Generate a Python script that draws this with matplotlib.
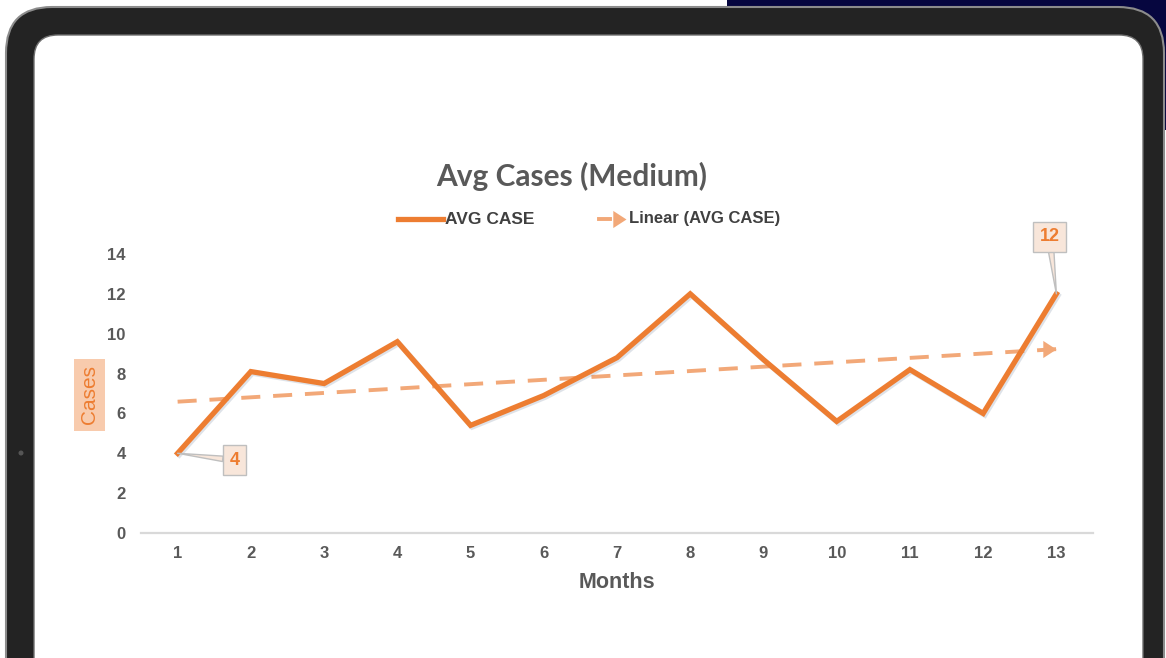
import matplotlib
matplotlib.use("Agg")
import matplotlib.pyplot as plt
import matplotlib.patheffects as pe
from matplotlib.patches import FancyBboxPatch, Rectangle, Circle
from matplotlib.lines import Line2D
import numpy as np

# monthly average cases
months = [1, 2, 3, 4, 5, 6, 7, 8, 9, 10, 11, 12, 13]
avg_case = [4, 8.1, 7.5, 9.6, 5.4, 6.9, 8.8, 12, 8.7, 5.6, 8.2, 6.0, 12]
y_ticks = [0, 2, 4, 6, 8, 10, 12, 14]
# points that carry a callout label, with callout offset in pixels
callouts = {0: (57, -7), 12: (-7, 57)}

ORANGE = "#ED7D31"
TREND = "#F2A878"
GRAY = "#595959"

# arrow head with its tip at the data point
ARROW = [(0, 0), (-1, 0.65), (-1, -0.65), (0, 0)]

fig = plt.figure(figsize=(11.66, 6.58), dpi=100)
fig.patch.set_facecolor("white")

# tablet frame drawn in pixel coordinates
bg = fig.add_axes([0, 0, 1, 1], zorder=-1)
bg.set_xlim(0, 1166)
bg.set_ylim(658, 0)
bg.axis("off")
bg.add_patch(Rectangle((727, 0), 439, 130, fc="#06063F", ec="none"))
bg.add_patch(FancyBboxPatch((6, 7), 1158, 720, boxstyle="round,pad=0,rounding_size=46",
                            fc="#232323", ec="#8C8C8C", lw=1.5))
bg.add_patch(FancyBboxPatch((34, 35), 1109, 720, boxstyle="round,pad=0,rounding_size=24",
                            fc="white", ec="#6E6E6E", lw=1))
bg.add_patch(Circle((21, 453), 2.5, fc="#555555", ec="none"))

ax = fig.add_axes([141 / 1166, 1 - 533 / 658, 952 / 1166, 279 / 658])
ax.set_facecolor("none")

ax.plot(months, avg_case, color=ORANGE, lw=3.8, solid_joinstyle="miter", zorder=3,
        path_effects=[pe.SimpleLineShadow(offset=(1.2, -1.2), shadow_color="#7f8fa6", alpha=0.25),
                      pe.Normal()])

# linear trend of the series, ending in an arrow head
coef = np.polyfit(months, avg_case, 1)
trend = np.polyval(coef, months)
ax.plot(months, trend, color=TREND, lw=2.8, dashes=(4.9, 3.3), dash_capstyle="butt", zorder=2)
ax.plot(months[-1:], trend[-1:], ls="none", color=TREND, marker=ARROW, markersize=19,
        markeredgewidth=0, zorder=2)

for i, off in callouts.items():
    ax.annotate(f"{avg_case[i]:g}", xy=(months[i], avg_case[i]), xytext=off,
                textcoords="offset pixels", ha="center", va="center",
                fontsize=13, fontweight="bold", color=ORANGE, family="Liberation Sans",
                bbox=dict(boxstyle="square,pad=0.35", fc="#F8E6DA", ec="#BFBFBF", lw=1),
                arrowprops=dict(arrowstyle="wedge,tail_width=0.3", fc="#F8E6DA",
                                ec="#BFBFBF", lw=1, shrinkA=0, shrinkB=0),
                zorder=5)

ax.set_xlim(0.5, 13.5)
ax.set_ylim(0, 14)
ax.set_xticks(months)
ax.set_yticks(y_ticks)
ax.tick_params(length=0)
ax.tick_params(axis="x", pad=9, labelsize=12, labelcolor=GRAY)
ax.tick_params(axis="y", pad=11, labelsize=12, labelcolor=GRAY)
for lab in ax.get_xticklabels() + ax.get_yticklabels():
    lab.set_family("Liberation Sans")
    lab.set_fontweight("bold")
for s in ["top", "right", "left"]:
    ax.spines[s].set_visible(False)
ax.spines["bottom"].set_color("#D9D9D9")
ax.spines["bottom"].set_linewidth(1.6)

ax.set_xlabel("Months", fontsize=15.5, fontweight="bold", color=GRAY,
              family="Liberation Sans", labelpad=8)
ax.set_ylabel("Cases", fontsize=15, color=ORANGE, family="Liberation Sans",
              bbox=dict(boxstyle="square,pad=0.3", fc="#F8CBAD", ec="none"))
ax.yaxis.set_label_coords(-0.054, 0.495)
ax.yaxis.label.set_va("center")

fig.text(572 / 1166, 1 - 176 / 658, "Avg Cases (Medium)", ha="center", va="center",
         fontsize=21.5, fontweight="bold", color=GRAY, family="Lato")

# legend row
bg.add_line(Line2D([398, 443], [219, 219], color=ORANGE, lw=3.8))
bg.text(445, 219, "AVG CASE", ha="left", va="center", fontsize=12.5, fontweight="bold",
        color="#404040", family="Liberation Sans")
bg.add_line(Line2D([599, 610], [219, 219], color=TREND, lw=2.8))
bg.plot([626], [219], ls="none", marker=ARROW, color=TREND, markersize=19, markeredgewidth=0)
bg.text(629, 219, "Linear (AVG CASE)", ha="left", va="center", fontsize=12,
        fontweight="bold", color="#404040", family="Liberation Sans")

fig.savefig("out.png", dpi=100)
